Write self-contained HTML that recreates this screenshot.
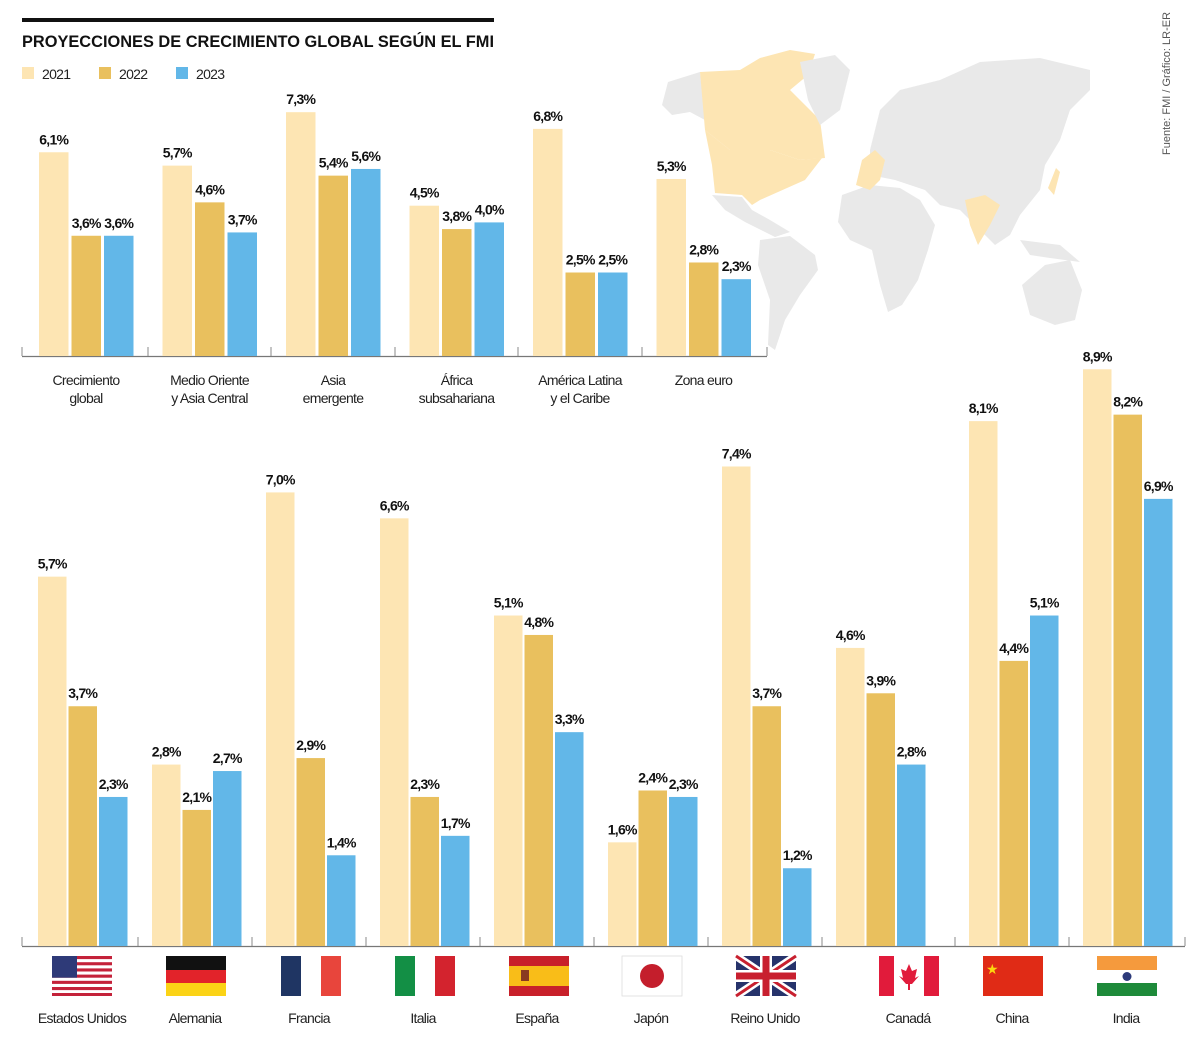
<!DOCTYPE html>
<html><head><meta charset="utf-8">
<style>
body{margin:0;background:#fff;}
svg{display:block;font-family:"Liberation Sans",sans-serif;}
.v{font-weight:bold;font-size:14px;fill:#111;letter-spacing:-0.7px}
.c{font-size:14px;fill:#222;letter-spacing:-0.7px}
</style></head>
<body>
<svg id="chart" width="1200" height="1051" viewBox="0 0 1200 1051" xmlns="http://www.w3.org/2000/svg">
<g id="map">
 <path fill="#e9e9e9" d="M668,82 L700,72 L705,120 L690,112 L672,115 L662,105 Z"/>
 <path fill="#fde5b3" d="M700,72 L740,70 L760,58 L790,50 L815,54 L808,75 L790,90 L800,100 L820,120 L825,158 L800,160 L770,150 L730,150 L705,130 Z"/>
 <path fill="#fde5b3" d="M705,130 L730,150 L770,150 L800,160 L822,158 L805,180 L760,200 L752,205 L742,195 L715,193 L712,165 Z"/>
 <path fill="#e9e9e9" d="M800,62 L835,55 L850,70 L840,110 L820,125 L808,100 Z"/>
 <path fill="#e9e9e9" d="M712,195 L742,197 L752,210 L770,220 L790,232 L775,237 L745,222 L725,210 Z"/>
 <path fill="#e9e9e9" d="M760,240 L790,236 L815,255 L818,270 L800,295 L785,320 L775,350 L768,345 L770,300 L758,265 Z"/>
 <path fill="#e9e9e9" d="M870,150 L880,110 L900,90 L940,80 L980,62 L1040,58 L1090,70 L1090,90 L1070,110 L1060,140 L1045,165 L1040,190 L1020,215 L1010,235 L995,245 L980,230 L960,210 L940,205 L925,190 L895,180 L870,175 Z"/>
 <path fill="#e9e9e9" d="M842,195 L870,185 L900,188 L920,200 L935,225 L928,250 L918,280 L902,305 L888,312 L880,285 L872,250 L850,240 L838,222 Z"/>
 <path fill="#e9e9e9" d="M1022,285 L1045,265 L1070,260 L1082,290 L1075,320 L1055,325 L1030,315 Z"/>
 <path fill="#e9e9e9" d="M1020,240 L1060,245 L1080,262 L1050,258 L1030,255 Z"/>
 <path fill="#fde5b3" d="M856,185 L862,160 L875,150 L885,160 L880,180 L870,190 Z"/>
 <path fill="#fde5b3" d="M965,200 L985,195 L1000,205 L990,225 L978,245 L970,225 Z"/>
 <path fill="#fde5b3" d="M1048,188 L1056,168 L1060,172 L1054,195 Z"/>
</g>
<rect x="22" y="18" width="472" height="4" fill="#111"/>
<text x="22" y="47" font-size="17" font-weight="bold" fill="#111" textLength="472" lengthAdjust="spacingAndGlyphs">PROYECCIONES DE CRECIMIENTO GLOBAL SEGÚN EL FMI</text>
<g>
 <rect x="22" y="67" width="12" height="12" fill="#fde5b3"/>
 <text class="c" x="42" y="79">2021</text>
 <rect x="99" y="67" width="12" height="12" fill="#e9c05e"/>
 <text class="c" x="119" y="79">2022</text>
 <rect x="176" y="67" width="12" height="12" fill="#62b7e8"/>
 <text class="c" x="196" y="79">2023</text>
</g>
<text transform="translate(1170,155) rotate(-90)" font-size="11" fill="#555">Fuente: FMI / Gráfico: LR-ER</text>
<g id="topchart"></g>
<g id="botchart"></g>
<g id="flags">
 <g transform="translate(52,956)">
  <rect width="60" height="40" fill="#fff"/>
  <rect y="0" width="60" height="3.1" fill="#c4223a"/><rect y="6.2" width="60" height="3.1" fill="#c4223a"/><rect y="12.4" width="60" height="3.1" fill="#c4223a"/><rect y="18.6" width="60" height="3.1" fill="#c4223a"/><rect y="24.8" width="60" height="3.1" fill="#c4223a"/><rect y="31" width="60" height="3.1" fill="#c4223a"/><rect y="37" width="60" height="3" fill="#c4223a"/>
  <rect width="25" height="21.7" fill="#2e3a78"/>
 </g>
 <g transform="translate(166,956)">
  <rect width="60" height="14" fill="#111"/><rect y="14" width="60" height="13" fill="#e2232a"/><rect y="27" width="60" height="13" fill="#fbd316"/>
 </g>
 <g transform="translate(281,956)">
  <rect width="20" height="40" fill="#1f3563"/><rect x="20" width="20" height="40" fill="#fff"/><rect x="40" width="20" height="40" fill="#e8453c"/>
 </g>
 <g transform="translate(395,956)">
  <rect width="20" height="40" fill="#138f45"/><rect x="20" width="20" height="40" fill="#fff"/><rect x="40" width="20" height="40" fill="#d3232e"/>
 </g>
 <g transform="translate(509,956)">
  <rect width="60" height="40" fill="#c8202a"/><rect y="10" width="60" height="20" fill="#f9bd18"/><rect x="12" y="14" width="8" height="11" fill="#8a3a20"/>
 </g>
 <g transform="translate(622,956)">
  <rect width="60" height="40" fill="#fff" stroke="#ddd" stroke-width="0.8"/><circle cx="30" cy="20" r="12" fill="#c41e2c"/>
 </g>
 <g transform="translate(736,956)">
  <rect width="60" height="40" fill="#26336b"/>
  <path d="M0,0 L60,40 M60,0 L0,40" stroke="#fff" stroke-width="8"/>
  <path d="M0,0 L60,40 M60,0 L0,40" stroke="#c8202f" stroke-width="3"/>
  <rect x="24" width="12" height="40" fill="#fff"/><rect y="14" width="60" height="12" fill="#fff"/>
  <rect x="26.5" width="7" height="40" fill="#c8202f"/><rect y="16.5" width="60" height="7" fill="#c8202f"/>
 </g>
 <g transform="translate(879,956)">
  <rect width="60" height="40" fill="#fff"/><rect width="15" height="40" fill="#e11b3b"/><rect x="45" width="15" height="40" fill="#e11b3b"/>
  <path d="M30,8 L33,15 L38,13 L36,22 L40,20 L33,28 L31,28 L31,34 L29,34 L29,28 L27,28 L20,20 L24,22 L22,13 L27,15 Z" fill="#e11b3b"/>
 </g>
 <g transform="translate(983,956)">
  <rect width="60" height="40" fill="#e02b16"/><text x="3" y="18" font-size="14" fill="#fcd80e">★</text>
 </g>
 <g transform="translate(1097,956)">
  <rect width="60" height="14" fill="#f59a3d"/><rect y="14" width="60" height="13" fill="#fff"/><rect y="27" width="60" height="13" fill="#1e8a3a"/><circle cx="30" cy="20.5" r="4.5" fill="#2c3a7a"/>
 </g>
</g>
</svg>
<script>
const NS="http://www.w3.org/2000/svg";
const series=["2021","2022","2023"];
const colors=["#fde5b3","#e9c05e","#62b7e8"];
const regionCats=[["Crecimiento","global"],["Medio Oriente","y Asia Central"],["Asia","emergente"],["África","subsahariana"],["América Latina","y el Caribe"],["Zona euro"]];
const region2021=[6.1,5.7,7.3,4.5,6.8,5.3];
const region2022=[3.6,4.6,5.4,3.8,2.5,2.8];
const region2023=[3.6,3.7,5.6,4.0,2.5,2.3];
const countryCats=["Estados Unidos","Alemania","Francia","Italia","España","Japón","Reino Unido","Canadá","China","India"];
const country2021=[5.7,2.8,7.0,6.6,5.1,1.6,7.4,4.6,8.1,8.9];
const country2022=[3.7,2.1,2.9,2.3,4.8,2.4,3.7,3.9,4.4,8.2];
const country2023=[2.3,2.7,1.4,1.7,3.3,2.3,1.2,2.8,5.1,6.9];

function mk(tag,attrs,parent){const e=document.createElementNS(NS,tag);for(const k in attrs)e.setAttribute(k,attrs[k]);parent.appendChild(e);return e;}
function fmt(v){return v.toFixed(1).replace(".",",")+"%";}

function drawChart(g,vals,opts){
  const y=v=>opts.base-v*opts.scale;
  const gx=i=>opts.x0+i*opts.step+(opts.shift&&i>=opts.shiftFrom?opts.shift:0);
  const ax=mk("line",{x1:22,x2:opts.axisEnd,y1:opts.base+0.5,y2:opts.base+0.5,stroke:"#777","stroke-width":1.2},g);
  
  
  opts.ticks.forEach(tx=>{
    const t=mk("line",{x1:tx,x2:tx,y1:opts.base-9,y2:opts.base,stroke:"#888","stroke-width":1},g);
    
    
  });
  vals.forEach((arr,s)=>{
    arr.forEach((v,i)=>{
      const x=gx(i)+s*opts.bstep;
      const r=mk("rect",{x:x,y:y(v),width:opts.bw,height:v*opts.scale,fill:colors[s]},g);
      
      
      const t=mk("text",{x:x+opts.bw/2,y:y(v)-8,"text-anchor":"middle",class:"v"},g);
      t.textContent=fmt(v);
      
      
    });
  });
  return gx;
}
const topG=document.getElementById("topchart");
const gxT=drawChart(topG,[region2021,region2022,region2023],{base:356,scale:33.4,x0:39,step:123.5,bw:29.5,bstep:32.5,axisEnd:767,ticks:[22,148,271,395,518,642,767]});
regionCats.forEach((lines,i)=>{
  lines.forEach((ln,j)=>{
    const t=mk("text",{x:gxT(i)+47,y:385+j*18,"text-anchor":"middle",class:"c"},topG);
    t.textContent=ln;
    
    
  });
});
const botG=document.getElementById("botchart");
const gxB=drawChart(botG,[country2021,country2022,country2023],{base:946,scale:64.8,x0:38,step:114,bw:28.5,bstep:30.5,axisEnd:1185,shift:19,shiftFrom:8,ticks:[22,138,252,366,480,594,708,822,955,1069,1185]});
const labelX=[82,195,309,423,537,651,765,908,1012,1126];
countryCats.forEach((c,i)=>{
  const t=mk("text",{x:labelX[i],y:1023,"text-anchor":"middle",class:"c"},botG);
  t.textContent=c;
  
  
});
</script>
</body></html>
